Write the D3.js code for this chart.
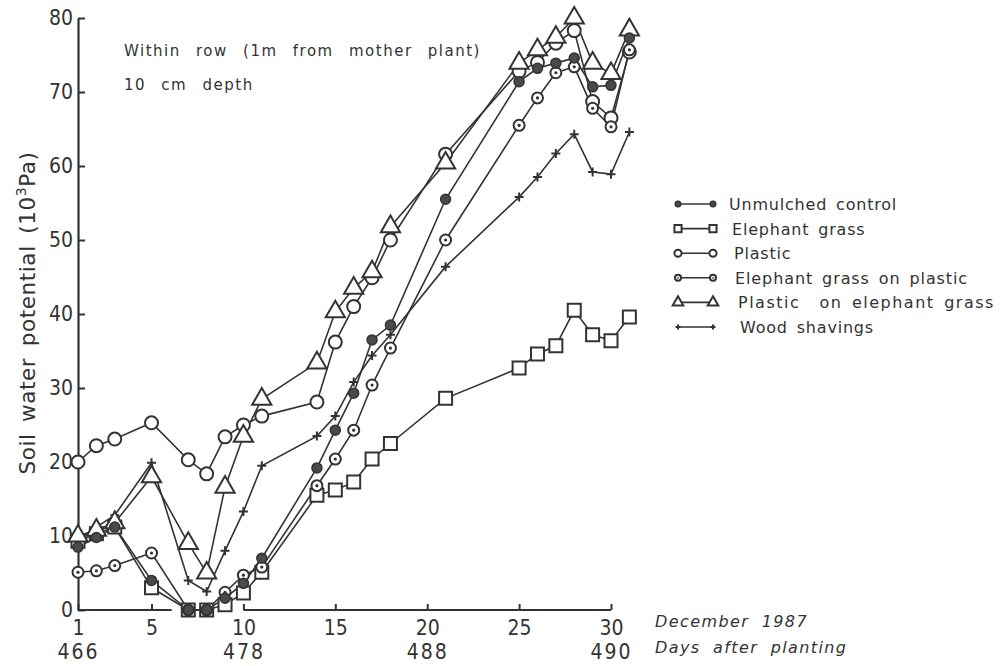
<!DOCTYPE html>
<html>
<head>
<meta charset="utf-8">
<script src="https://cdn.jsdelivr.net/npm/d3@7/dist/d3.min.js"></script>
<style>
  body { margin: 0; background: #fff; }
  svg { display: block; }
  .axis text { font-family: "DejaVu Sans Condensed", "Liberation Sans Narrow", sans-serif; font-size: 21px; fill: #333; }
  .axis.dap text { letter-spacing: 2px; }
  .axis line, .axis-line { stroke: #333; stroke-width: 2; }
  .series-line { fill: none; stroke: #333; stroke-width: 1.6; }
  .note { font-family: "DejaVu Sans", sans-serif; font-size: 15px; fill: #333; letter-spacing: 1.5px; word-spacing: 9px; }
  .legend text { font-family: "DejaVu Sans", sans-serif; font-size: 16px; fill: #333; letter-spacing: 0.8px; word-spacing: 3px; white-space: pre; }
  .x-title { font-family: "DejaVu Sans", sans-serif; font-style: italic; font-size: 16px; fill: #333; letter-spacing: 1.4px; word-spacing: 6px; }
  .y-title { font-family: "DejaVu Sans", sans-serif; font-size: 21.5px; fill: #333; letter-spacing: 0.6px; word-spacing: 4px; }
</style>
</head>
<body>
<svg id="chart"></svg>
<script>
// days of December 1987 with readings
const days = [1, 2, 3, 5, 7, 8, 9, 10, 11, 14, 15, 16, 17, 18, 21, 25, 26, 27, 28, 29, 30, 31];

// soil water potential (10^3 Pa), one value per day
const unmulched        = [8.5, 9.8, 11.2, 4.0, 0, 0, 1.6, 3.6, 7.0, 19.2, 24.3, 29.3, 36.5, 38.5, 55.5, 71.4, 73.2, 73.9, 74.6, 70.7, 70.9, 77.3];
const elephantGrass    = [9.3, 10.3, 11.2, 3.0, 0, 0, 0.7, 2.3, 5.1, 15.5, 16.2, 17.3, 20.4, 22.5, 28.6, 32.7, 34.6, 35.7, 40.5, 37.2, 36.4, 39.6];
const plastic          = [20.0, 22.2, 23.1, 25.3, 20.3, 18.4, 23.4, 25.0, 26.2, 28.1, 36.2, 41.0, 44.9, 50.0, 61.6, 72.8, 74.0, 76.6, 78.3, 68.7, 66.5, 75.4];
const grassOnPlastic   = [5.1, 5.3, 6.0, 7.7, 0, 0, 2.4, 4.7, 5.8, 16.8, 20.4, 24.3, 30.4, 35.4, 50.0, 65.5, 69.2, 72.6, 73.4, 67.8, 65.3, 75.7];
const plasticOnGrass   = [10.0, 10.8, 11.8, 18.0, 9.0, 5.0, 16.6, 23.5, 28.5, 33.4, 40.3, 43.5, 45.7, 51.8, 60.4, 73.9, 75.7, 77.4, 80.0, 73.9, 72.5, 78.4];
const woodShavings     = [9.5, 11.2, 12.8, 19.9, 4.0, 2.5, 8.0, 13.3, 19.5, 23.5, 26.2, 30.8, 34.4, 37.2, 46.4, 55.8, 58.5, 61.7, 64.3, 59.2, 58.9, 64.6];

const seriesNames = ['Unmulched control', 'Elephant grass', 'Plastic', 'Elephant grass on plastic', 'Plastic  on elephant grass', 'Wood shavings'];

// axis labels
const yTicks = [0, 10, 20, 30, 40, 50, 60, 70, 80];
const dayTicks = [1, 5, 10, 15, 20, 25, 30];
const dapTicks = [1, 10, 20, 30];
const dapLabels = ['466', '478', '488', '490'];

class SoilWaterChart {
  constructor(_config) {
    this.config = {
      parentElement: _config.parentElement,
      width: 1004,
      height: 666,
      margin: { top: 18, right: 393, bottom: 56, left: 78 },
      // legend text drifts right a little, row by row, in the original
      legendTextX: [729, 732, 734, 735, 738, 740],
      legendSpacing: [0.8, 0.8, 0.8, 0.9, 1.5, 0.8]
    };
    this.initVis();
  }

  initVis() {
    const vis = this;
    const m = vis.config.margin;
    vis.innerW = vis.config.width - m.left - m.right;
    vis.innerH = vis.config.height - m.top - m.bottom;

    vis.svg = d3.select(vis.config.parentElement)
      .attr('width', vis.config.width)
      .attr('height', vis.config.height);

    vis.chart = vis.svg.append('g')
      .attr('transform', `translate(${m.left},${m.top})`);

    vis.xScale = d3.scaleLinear().domain([1, 30]).range([0, vis.innerW]);
    vis.yScale = d3.scaleLinear().domain([0, 80]).range([vis.innerH, 0]);

    vis.series = [
      { name: seriesNames[0], values: unmulched, marker: 'filled' },
      { name: seriesNames[1], values: elephantGrass, marker: 'square' },
      { name: seriesNames[2], values: plastic, marker: 'circle' },
      { name: seriesNames[3], values: grassOnPlastic, marker: 'dot' },
      { name: seriesNames[4], values: plasticOnGrass, marker: 'triangle' },
      { name: seriesNames[5], values: woodShavings, marker: 'plus' }
    ];
  }

  // draws one marker into a group centred at 0,0
  drawMarker(g, type, s) {
    const stroke = '#333';
    if (type === 'filled') {
      g.append('circle').attr('r', 5 * s).attr('fill', '#4a4a4a').attr('stroke', stroke).attr('stroke-width', 1.5);
    } else if (type === 'square') {
      g.append('path').attr('d', d3.symbol(d3.symbolSquare, 169 * s * s)())
        .attr('fill', '#fff').attr('stroke', stroke).attr('stroke-width', 2);
    } else if (type === 'circle') {
      g.append('circle').attr('r', 6.5 * s).attr('fill', '#fff').attr('stroke', stroke).attr('stroke-width', 2);
    } else if (type === 'dot') {
      g.append('circle').attr('r', 5.5 * s).attr('fill', '#fff').attr('stroke', stroke).attr('stroke-width', 2);
      g.append('circle').attr('r', 1.6 * s).attr('fill', stroke);
    } else if (type === 'triangle') {
      g.append('path').attr('d', d3.symbol(d3.symbolTriangle, 160 * s * s)())
        .attr('fill', '#fff').attr('stroke', stroke).attr('stroke-width', 2);
    } else if (type === 'plus') {
      const r = 4.5 * s;
      g.append('path').attr('d', `M${-r},0H${r}M0,${-r}V${r}`)
        .attr('stroke', stroke).attr('stroke-width', 2);
    }
  }

  renderVis() {
    const vis = this;
    const x = vis.xScale, y = vis.yScale;

    // Y axis, ticks pointing inwards
    const yAxis = d3.axisLeft(y).tickValues(yTicks).tickSizeInner(-7).tickSizeOuter(0).tickPadding(5);
    vis.chart.append('g').attr('class', 'axis y-axis').call(yAxis)
      .call(g => g.select('.domain').attr('stroke', '#333').attr('stroke-width', 2.2));

    // X axis: day of month, domain drawn as two broken segments
    const xAxis = d3.axisBottom(x).tickValues(dayTicks).tickSizeInner(-6).tickSizeOuter(0).tickPadding(10);
    vis.chart.append('g').attr('class', 'axis x-axis')
      .attr('transform', `translate(0,${vis.innerH})`)
      .call(xAxis)
      .call(g => g.select('.domain').remove());

    [[1, 6.1], [10, 30]].forEach(([a, b]) => {
      vis.chart.append('line').attr('class', 'axis-line')
        .attr('x1', x(a)).attr('x2', x(b))
        .attr('y1', vis.innerH).attr('y2', vis.innerH);
    });

    // days after planting
    const dapAxis = d3.axisBottom(x).tickValues(dapTicks)
      .tickFormat((d, i) => dapLabels[i]).tickSize(0).tickPadding(34);
    vis.chart.append('g').attr('class', 'axis dap')
      .attr('transform', `translate(0,${vis.innerH})`)
      .call(dapAxis)
      .call(g => g.select('.domain').remove());

    // lines
    const line = d3.line().x((d, i) => x(days[i])).y(d => y(d));
    vis.chart.selectAll('.series-line')
      .data(vis.series)
      .join('path')
      .attr('class', 'series-line')
      .attr('d', d => line(d.values));

    // markers, filled circles last
    const order = [1, 5, 2, 3, 4, 0];
    order.forEach(k => {
      const s = vis.series[k];
      s.values.forEach((v, i) => {
        const g = vis.chart.append('g').attr('transform', `translate(${x(days[i])},${y(v)})`);
        vis.drawMarker(g, s.marker, 1);
      });
    });

    // notes in the plot area
    vis.svg.append('text').attr('class', 'note').attr('x', 124).attr('y', 56)
      .text('Within row (1m from mother plant)');
    vis.svg.append('text').attr('class', 'note').attr('x', 124).attr('y', 90)
      .text('10 cm depth');

    // axis titles
    vis.svg.append('text').attr('class', 'x-title').attr('x', 655).attr('y', 627).text('December 1987');
    vis.svg.append('text').attr('class', 'x-title').attr('x', 655).attr('y', 653).text('Days after planting');

    const yt = vis.svg.append('text').attr('class', 'y-title')
      .attr('transform', 'translate(35,313) rotate(-90)')
      .attr('text-anchor', 'middle');
    yt.append('tspan').text('Soil water potential (10');
    yt.append('tspan').attr('font-size', 14).attr('dy', -9).text('3');
    yt.append('tspan').attr('dy', 9).text('Pa)');

    // legend
    const legend = vis.svg.append('g').attr('class', 'legend');
    vis.series.forEach((s, i) => {
      const ly = 204 + i * 24.6;
      const row = legend.append('g').attr('transform', `translate(0,${ly})`);
      row.append('line').attr('x1', 678).attr('x2', 713).attr('stroke', '#333').attr('stroke-width', 1.6);
      vis.drawMarker(row.append('g').attr('transform', 'translate(678,0)'), s.marker, 0.55);
      vis.drawMarker(row.append('g').attr('transform', 'translate(713,0)'), s.marker, 0.55);
      row.append('text')
        .attr('x', vis.config.legendTextX[i]).attr('y', 6)
        .style('letter-spacing', `${vis.config.legendSpacing[i]}px`)
        .text(s.name);
    });
  }
}

const chart = new SoilWaterChart({ parentElement: '#chart' });
chart.renderVis();
</script>
</body>
</html>
